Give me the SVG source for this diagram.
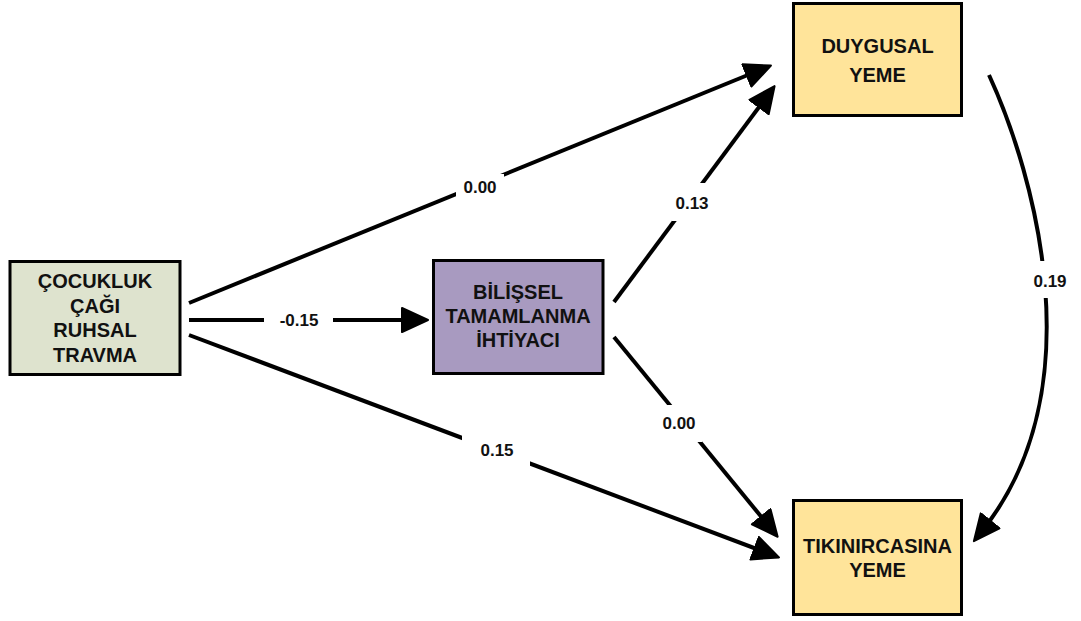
<svg xmlns="http://www.w3.org/2000/svg" width="1081" height="621" viewBox="0 0 1081 621">
  <style>
    .box { stroke: #000; stroke-width: 3; }
    .bt { font-family: "Liberation Sans", Arial, sans-serif; font-weight: bold; font-size: 20px; fill: #111; text-anchor: middle; }
    .lt { font-family: "Liberation Sans", Arial, sans-serif; font-weight: bold; font-size: 17px; fill: #111; text-anchor: middle; }
    .edge { fill: none; stroke: #000; stroke-width: 4; }
    .bg { fill: #fff; }
  </style>
  <defs>
    <marker id="ah" markerUnits="userSpaceOnUse" markerWidth="32" markerHeight="30" refX="14" refY="13" orient="auto">
      <path d="M1,1 L27,13 L1,25 z" fill="#000" stroke="#000" stroke-width="2" stroke-linejoin="round"/>
    </marker>
  </defs>
  <rect width="1081" height="621" fill="#fff"/>

  <g id="connectors">
    <path class="edge" d="M189,303 L758.9,70.5" marker-end="url(#ah)"/>
    <path class="edge" d="M189,320 L415,320" marker-end="url(#ah)"/>
    <path class="edge" d="M189,335 L766.8,552.8" marker-end="url(#ah)"/>
    <path class="edge" d="M614,302 L766.8,96.6" marker-end="url(#ah)"/>
    <path class="edge" d="M614,337 L769.4,526.7" marker-end="url(#ah)"/>
    <path class="edge" d="M989,75 C1035,175 1095,390 982,531" marker-end="url(#ah)"/>

    <rect class="bg" x="456" y="174" width="48" height="26"/>
    <text class="lt" x="480" y="193">0.00</text>
    <rect class="bg" x="264" y="308" width="69" height="24"/>
    <text class="lt" x="299" y="326">-0.15</text>
    <rect class="bg" x="462" y="434" width="68" height="32"/>
    <text class="lt" x="497" y="456">0.15</text>
    <rect class="bg" x="672" y="183" width="42" height="38"/>
    <text class="lt" x="692" y="209">0.13</text>
    <rect class="bg" x="658" y="405" width="44" height="37"/>
    <text class="lt" x="679" y="429">0.00</text>
    <rect class="bg" x="1030" y="261" width="42" height="37"/>
    <text class="lt" x="1050" y="287">0.19</text>
  </g>

  <g id="node-travma">
    <rect class="box" x="10" y="261.5" width="170" height="113" fill="#DEE3CE"/>
    <text class="bt" x="95" y="288">ÇOCUKLUK</text>
    <text class="bt" x="95" y="312.5">ÇAĞI</text>
    <text class="bt" x="95" y="337">RUHSAL</text>
    <text class="bt" x="95" y="361.5">TRAVMA</text>
  </g>

  <g id="node-bilissel">
    <rect class="box" x="433.5" y="260.5" width="169.5" height="113" fill="#A89AC0"/>
    <text class="bt" x="518" y="299">BİLİŞSEL</text>
    <text class="bt" x="518" y="323">TAMAMLANMA</text>
    <text class="bt" x="518" y="347">İHTİYACI</text>
  </g>

  <g id="node-duygusal">
    <rect class="box" x="793.5" y="3.5" width="168" height="112" fill="#FFE49A"/>
    <text class="bt" x="877.5" y="53">DUYGUSAL</text>
    <text class="bt" x="877.5" y="81.5">YEME</text>
  </g>

  <g id="node-tikinircasina">
    <rect class="box" x="793.5" y="500.5" width="168" height="114" fill="#FFE49A"/>
    <text class="bt" x="877.5" y="553">TIKINIRCASINA</text>
    <text class="bt" x="877.5" y="577">YEME</text>
  </g>
</svg>
